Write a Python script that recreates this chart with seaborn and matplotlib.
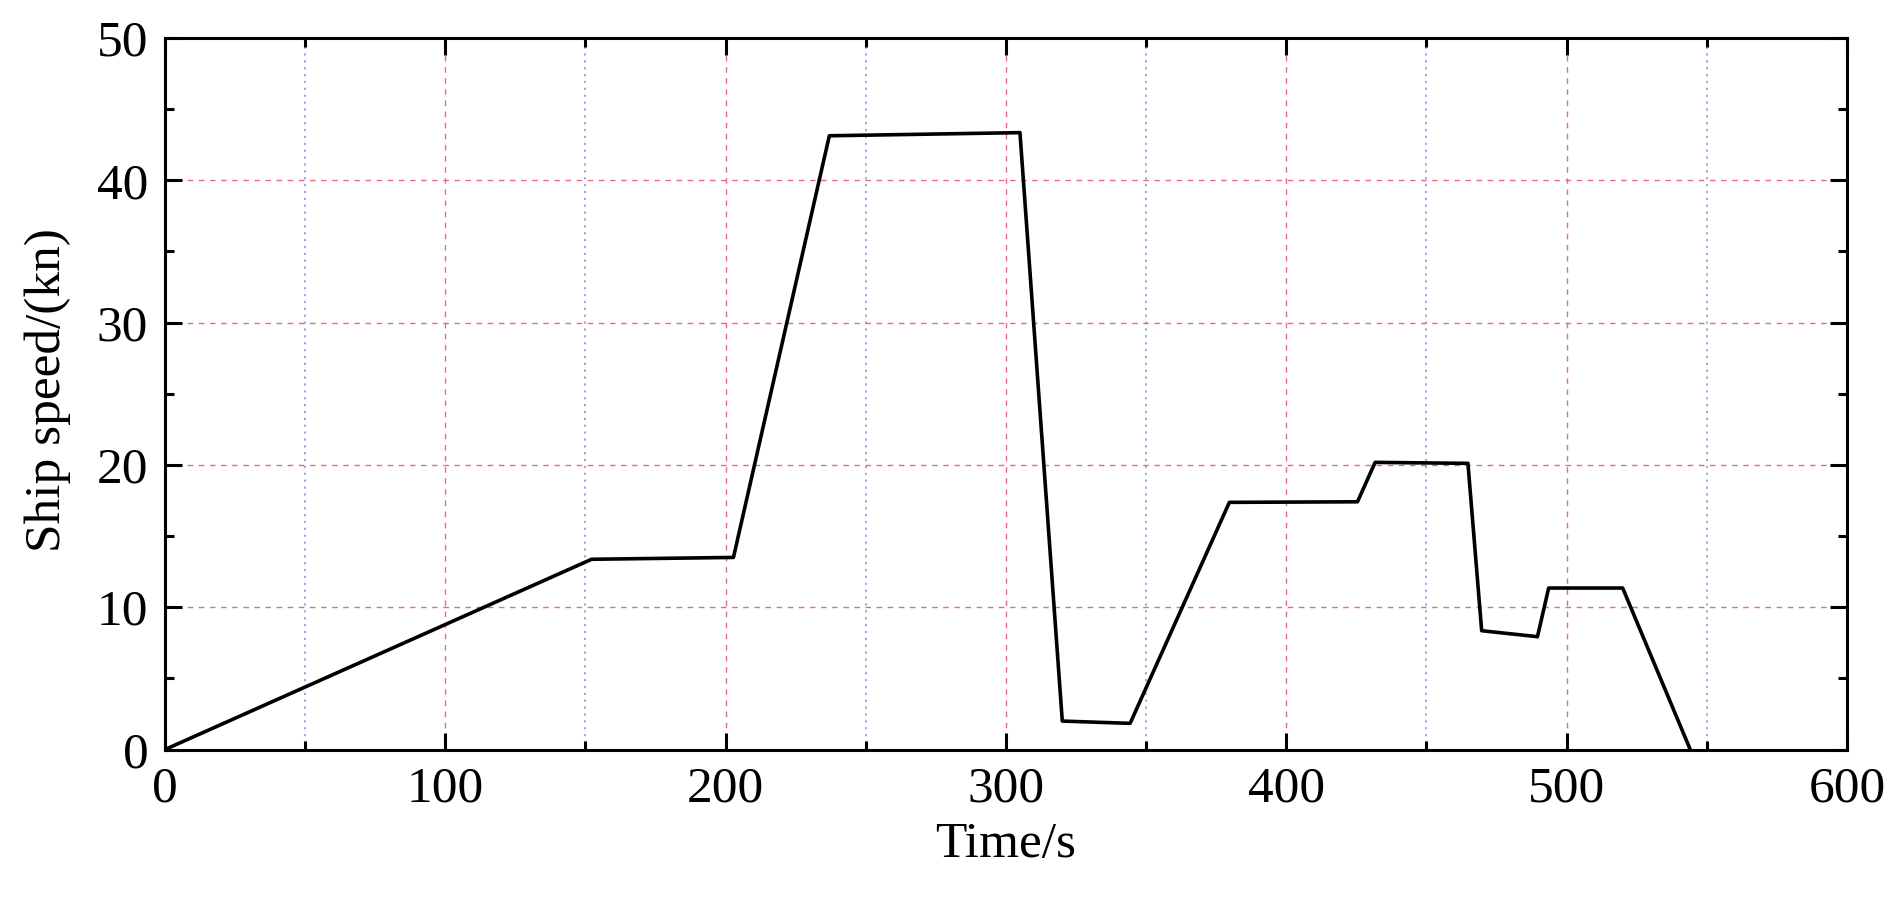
import matplotlib
matplotlib.use("Agg")
import matplotlib.pyplot as plt
from matplotlib.ticker import MultipleLocator
import seaborn as sns
import pandas as pd

# Data
time_s = [0, 152.2, 202.8, 237.0, 305.0, 320.1, 344.3, 379.7, 425.4, 431.7,
          464.8, 469.7, 489.6, 493.6, 520.0, 544.1]
speed_kn = [0, 13.37, 13.5, 43.13, 43.35, 2.0, 1.84, 17.37, 17.41, 20.18,
            20.11, 8.35, 7.93, 11.35, 11.35, 0]

x_ticks = [0, 100, 200, 300, 400, 500, 600]
y_ticks = [0, 10, 20, 30, 40, 50]
x_label = "Time/s"
y_label = "Ship speed/(kn)"

df = pd.DataFrame({"time": time_s, "speed": speed_kn})

sns.set_theme(style="ticks")
plt.rcParams["font.family"] = ["Liberation Serif", "DejaVu Serif"]
plt.rcParams["text.color"] = "black"
plt.rcParams["axes.labelcolor"] = "black"
plt.rcParams["xtick.color"] = "black"
plt.rcParams["ytick.color"] = "black"

fig = plt.figure(figsize=(18.98, 9.07), dpi=100)
ax = fig.add_axes([0.0869, 0.1736, 0.9731 - 0.0869, 0.9581 - 0.1736])

sns.lineplot(data=df, x="time", y="speed", sort=False, estimator=None,
             color="black", linewidth=2.6, ax=ax, zorder=3)

ax.set_xlim(0, 600)
ax.set_ylim(0, 50)
ax.set_xticks(x_ticks)
ax.set_yticks(y_ticks)
ax.xaxis.set_minor_locator(MultipleLocator(50))
ax.yaxis.set_minor_locator(MultipleLocator(5))

red = (0.90, 0.42, 0.50)
blue = (0.55, 0.55, 0.88)
ax.grid(which="major", axis="x", color=red, linestyle=(0, (4, 4)), linewidth=1.0)
ax.grid(which="minor", axis="x", color=blue, linestyle=(0, (1.5, 3)), linewidth=1.1)
ax.grid(which="major", axis="y", color=red, linestyle=(0, (4, 4)), linewidth=1.0)
ax.set_axisbelow(True)

ax.tick_params(which="both", direction="in", top=True, right=True,
               width=2.2, color="black", labelcolor="black")
ax.tick_params(which="major", length=12.5, labelsize=37, pad=12)
ax.tick_params(which="minor", length=6.5)

for s in ax.spines.values():
    s.set_linewidth(2.2)
    s.set_color("black")

ax.set_xlabel(x_label, fontsize=37, labelpad=6, color="black")
ax.set_ylabel(y_label, fontsize=37, color="black")
ax.yaxis.set_label_coords(-0.0559, 0.505)

fig.savefig("out.png", dpi=100, facecolor="white")
